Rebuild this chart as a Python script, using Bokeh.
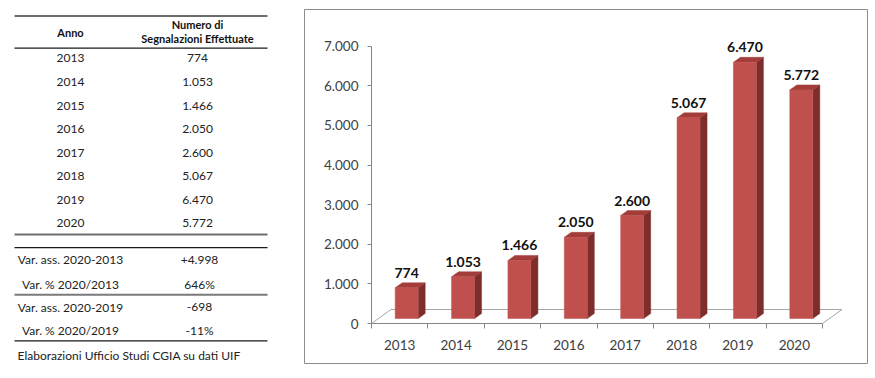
from bokeh.plotting import figure
from bokeh.layouts import row
from bokeh.models import Range1d, LinearAxis, FixedTicker
from bokeh.core.properties import value
from bokeh.embed import file_html
from bokeh.resources import INLINE

# ---------------- data ----------------
years = ["2013", "2014", "2015", "2016", "2017", "2018", "2019", "2020"]
segnalazioni = [774, 1053, 1466, 2050, 2600, 5067, 6470, 5772]
var_labels = ["Var. ass. 2020-2013", "Var. % 2020/2013", "Var. ass. 2020-2019", "Var. % 2020/2019"]
var_values = ["+4.998", "646%", "-698", "-11%"]
y_ticks = [0, 1000, 2000, 3000, 4000, 5000, 6000, 7000]
y_tick_labels = ["0", "1.000", "2.000", "3.000", "4.000", "5.000", "6.000", "7.000"]
header_anno = "Anno"
header_num = ["Numero di", "Segnalazioni Effettuate"]
source_note = "Elaborazioni Ufficio Studi CGIA su dati UIF"


def fmt(v):
    return f"{v:,}".replace(",", ".")


FONT = value("Lato")
H = 376

# ---------------- table (left) ----------------
t = figure(width=304, height=H, x_range=Range1d(0, 304), y_range=Range1d(H, 0),
           output_backend="svg", toolbar_location=None, x_axis_type=None, y_axis_type=None,
           min_border=0, outline_line_color=None)
t.xgrid.visible = False
t.ygrid.visible = False

XL, XR = 14, 267
t.segment(x0=[XL], y0=[7], x1=[XR], y1=[7], line_color="#3a3a3a", line_width=1.5)
t.segment(x0=[XL], y0=[41], x1=[XR], y1=[41], line_color="#1a1a1a", line_width=1.2)
t.segment(x0=[XL], y0=[239], x1=[XR], y1=[239], line_color="#6e6e6e", line_width=2)
t.segment(x0=[XL], y0=[253], x1=[XR], y1=[253], line_color="#1a1a1a", line_width=1.2)
t.segment(x0=[XL], y0=[303], x1=[XR], y1=[303], line_color="#7a7a7a", line_width=2)
t.segment(x0=[XL], y0=[352], x1=[XR], y1=[352], line_color="#1a1a1a", line_width=1.2)

t.text(x=[70], y=[24], text=[header_anno], text_font=FONT, text_font_style="bold",
       text_font_size="11px", text_align="center", text_baseline="middle", text_color="#111111")
t.text(x=[197, 197], y=[16, 31], text=header_num, text_font=FONT, text_font_style="bold",
       text_font_size="11px", text_align="center", text_baseline="middle", text_color="#111111")

row_y = [52 + 25 * i for i in range(len(years))]
t.text(x=[70] * len(years), y=row_y, text=years, text_font=FONT, text_font_size="12px",
       text_align="center", text_baseline="middle", text_color="#222222")
t.text(x=[197] * len(years), y=row_y, text=[fmt(v) for v in segnalazioni], text_font=FONT,
       text_font_size="12px", text_align="center", text_baseline="middle", text_color="#222222")

var_y = [266, 292, 316, 341]
t.text(x=[70] * 4, y=var_y, text=var_labels, text_font=FONT, text_font_size="12px",
       text_align="center", text_baseline="middle", text_color="#222222")
t.text(x=[199] * 4, y=var_y, text=var_values, text_font=FONT, text_font_size="12px",
       text_align="center", text_baseline="middle", text_color="#222222")
t.text(x=[17], y=[368], text=[source_note], text_font=FONT, text_font_size="12px",
       text_align="left", text_baseline="middle", text_color="#222222")

# ---------------- chart (right) ----------------
n = len(years)
p = figure(width=571, height=H, x_range=Range1d(-1.1885, 8.7982), y_range=Range1d(-1010, 7929),
           output_backend="svg", toolbar_location=None, x_axis_type=None, y_axis_type=None,
           min_border_left=0, min_border_right=8, min_border_top=9, min_border_bottom=H - 9 - 354,
           outline_line_color="#8c8c8c", outline_line_width=1)
p.xgrid.visible = False
p.ygrid.visible = False

# pseudo-3D geometry (in data units)
depth_x, depth_y = 0.346, 353     # floor depth
base = 126                        # bars sit slightly behind the front edge
shift = 0.124                     # bar offset in depth
half_w = 0.204                    # half width of bar front face
side_x, side_y = 0.124, 126       # bar depth

# floor
p.patch(x=[0, n, n + depth_x, depth_x], y=[0, 0, depth_y, depth_y], fill_color=None,
        line_color="#a6a6a6", line_width=1)

centers = [i + 0.5 + shift for i in range(n)]
lefts = [c - half_w for c in centers]
rights = [c + half_w for c in centers]
tops = [base + v for v in segnalazioni]

side_xs = [[r, r + side_x, r + side_x, r] for r in rights]
side_ys = [[base, base + side_y, tp + side_y, tp] for tp in tops]
top_xs = [[l, r, r + side_x, l + side_x] for l, r in zip(lefts, rights)]
top_ys = [[tp, tp, tp + side_y, tp + side_y] for tp in tops]

p.patches(xs=side_xs, ys=side_ys, fill_color="#7d2d2b", line_color="#7d2d2b", line_width=0.5)
p.patches(xs=top_xs, ys=top_ys, fill_color="#a33d3a", line_color="#a33d3a", line_width=0.5)
p.quad(left=lefts, right=rights, bottom=[base] * n, top=tops, fill_color="#c0504d",
       line_color="#c0504d", line_width=0.5)

p.text(x=centers, y=tops, text=[fmt(v) for v in segnalazioni], text_font=FONT,
       text_font_style="bold", text_font_size="14px", text_align="center",
       text_baseline="middle", y_offset=-15, text_color="#111111")

# y axis (inside the frame, at x = 0)
yax = LinearAxis(fixed_location=0, ticker=FixedTicker(ticks=y_ticks), bounds=(0, 7000),
                 major_label_overrides={t_: l for t_, l in zip(y_ticks, y_tick_labels)},
                 axis_line_color="#868686", major_tick_line_color="#868686",
                 major_tick_out=4, major_tick_in=0, minor_tick_line_color=None,
                 major_label_standoff=9, major_label_text_font="Lato",
                 major_label_text_font_size="13.5px", major_label_text_color="#404040")
p.add_layout(yax, "left")

# x axis: labels at category centres, minor ticks at category boundaries
cat_ticks = [i + 0.5 for i in range(n)]
xax = LinearAxis(fixed_location=0,
                 ticker=FixedTicker(ticks=cat_ticks, minor_ticks=list(range(n + 1))),
                 bounds=(0, n),
                 major_label_overrides={c: y for c, y in zip(cat_ticks, years)},
                 axis_line_color="#868686", major_tick_line_color=None,
                 minor_tick_line_color="#868686", minor_tick_out=5, minor_tick_in=0,
                 major_tick_out=0, major_tick_in=0,
                 major_label_standoff=11, major_label_text_font="Lato",
                 major_label_text_font_size="13.5px", major_label_text_color="#404040")
p.add_layout(xax, "below")

layout = row(t, p)
open("out.html", "w").write(file_html(layout, INLINE))
